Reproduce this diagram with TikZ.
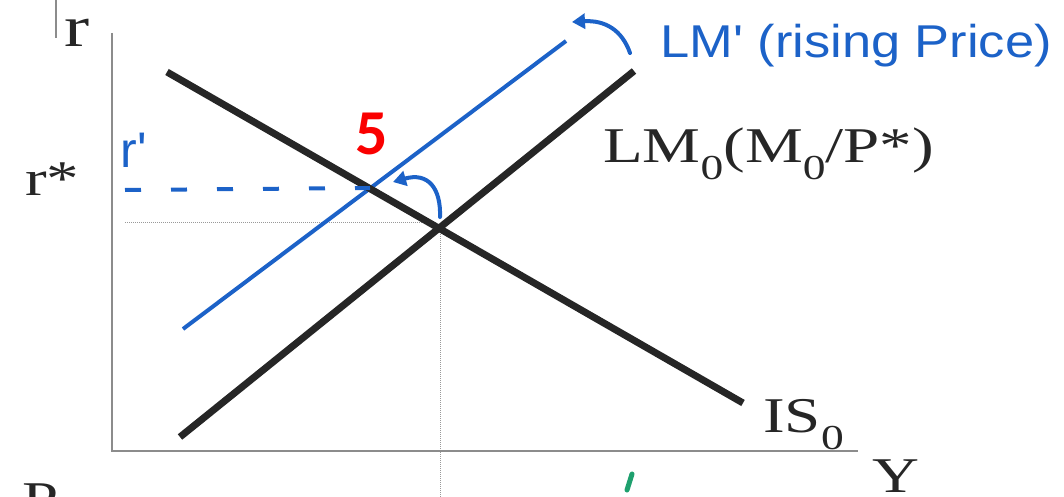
\documentclass[tikz,border=0pt]{standalone}
\usepackage{fontspec}
\setmainfont{Liberation Serif}
\newfontfamily\handfont{Liberation Sans}
\newfontfamily\numfont{Carlito}
\usetikzlibrary{arrows.meta}
\definecolor{bluepen}{RGB}{28,98,200}
\definecolor{redmark}{RGB}{250,0,0}
\definecolor{greenpen}{RGB}{30,160,110}
\newcommand{\widetxt}[1]{\scalebox{1.3}[1]{#1}}
\newcommand{\subz}{\raisebox{-17pt}{\fontsize{35}{40}\selectfont 0}}
\begin{document}
\begin{tikzpicture}[x=1pt,y=-1pt,
  axisline/.style={draw=black!45, line width=2.5pt},
  curveline/.style={draw=black!85, line width=7pt},
  blueline/.style={draw=bluepen, line width=4pt},
  bluearrow/.style={draw=bluepen, line width=4pt, line cap=round, -{Triangle[length=13pt,width=15pt]}},
  guide/.style={draw=black!40, line width=1pt, densely dotted},
  lab/.style={font=\fontsize{50}{60}\selectfont, inner sep=0pt, text=black!85},
  hand/.style={font=\handfont\fontsize{46}{50}\selectfont, text=bluepen, inner sep=0pt}]
\useasboundingbox (0,0) rectangle (1064,497);
\clip (0,0) rectangle (1064,497);
% coordinates
\coordinate (ytop) at (112,33);
\coordinate (O) at (112,451);
\coordinate (xend) at (858,451);
\coordinate (t1) at (56,0);
\coordinate (t2) at (56,38);
\coordinate (is1) at (167,72);
\coordinate (is2) at (743,403);
\coordinate (lm1) at (180,437);
\coordinate (lm2) at (634,71);
\coordinate (lp1) at (183,329);
\coordinate (lp2) at (566,41);
\coordinate (E) at (440,228);
\coordinate (E2) at (370,188);
\coordinate (g1) at (125,222);
\coordinate (g2) at (436,222);
\coordinate (gb) at (440,497);
\coordinate (d1) at (125,190);
\coordinate (a1s) at (440,217);
\coordinate (a1e) at (393,182);
\coordinate (a2s) at (630,53);
\coordinate (a2e) at (572,22);
\coordinate (gk1) at (632,474);
\coordinate (gk2) at (627,490);
% guides
\draw[guide] (g1) -- (g2);
\draw[guide] (E) -- (gb);
% axes
\draw[axisline] (ytop) -- (O) -- (xend);
\draw[axisline] (t1) -- (t2);
% curves
\draw[blueline] (lp1) -- (lp2);
\draw[curveline] (lm1) -- (lm2);
\draw[curveline] (is1) -- (is2);
\draw[draw=bluepen, line width=4pt, dash pattern=on 16pt off 30pt] (d1) -- (E2);
% arrows
\draw[bluearrow] (a1s) .. controls (441,188) and (428,172) .. (a1e);
\draw[bluearrow] (a2s) .. controls (622,30) and (605,20) .. (a2e);
\draw[draw=greenpen, line width=5pt, line cap=round] (gk1) -- (gk2);
% labels
\node[lab, anchor=base west, font=\fontsize{58}{60}\selectfont] (rl) at (64,47) {\widetxt{r}};
\node[lab, anchor=base west] (rs) at (25,195) {\widetxt{r*}};
\node[lab, anchor=base west] (lml) at (603,163) {\widetxt{LM\subz(M\subz/P*)}};
\node[lab, anchor=base west] (isl) at (763,432) {\widetxt{IS\subz}};
\node[lab, anchor=base west] (yl) at (872,492) {\widetxt{Y}};
\node[lab, anchor=base west] (pl) at (22,516) {\widetxt{P}};
\node[inner sep=0pt, text=redmark, font=\numfont\bfseries\fontsize{64}{70}\selectfont] (five) at (372,134) {5};
\node[hand, anchor=base west] (lmp) at (660,58) {\scalebox{1.14}[1]{LM' (rising Price)}};
\node[hand, font=\handfont\fontsize{50}{54}\selectfont] (rp) at (134,150) {r'};
\end{tikzpicture}
\end{document}
